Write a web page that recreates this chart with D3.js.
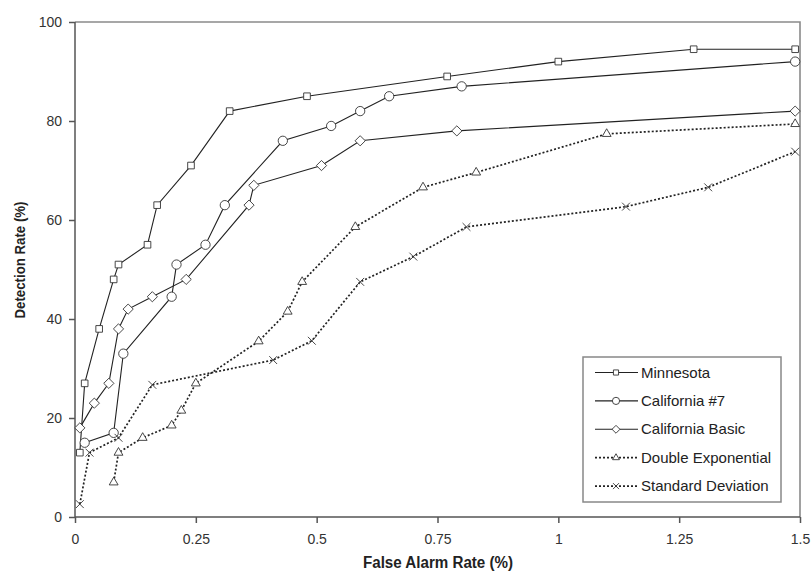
<!DOCTYPE html>
<html>
<head>
<meta charset="utf-8">
<script src="https://cdn.jsdelivr.net/npm/d3@7"></script>
<style>
  body { margin:0; background:#fff; }
  svg { display:block; font-family:"Liberation Sans", Arial, sans-serif; }
</style>
</head>
<body>
<div id="chart"></div>
<script>
// values (false alarm %, detection %)
const minnesotaX = [0.01, 0.02, 0.05, 0.08, 0.09, 0.15, 0.17, 0.24, 0.32, 0.48, 0.77, 1.0, 1.28, 1.49]
const minnesotaY = [13, 27, 38, 48, 51, 55, 63, 71, 82, 85, 89, 92, 94.5, 94.5]

const cal7X = [0.02, 0.08, 0.10, 0.20, 0.21, 0.27, 0.31, 0.43, 0.53, 0.59, 0.65, 0.80, 1.49]
const cal7Y = [15, 17, 33, 44.5, 51, 55, 63, 76, 79, 82, 85, 87, 92]

const calBasicX = [0.01, 0.04, 0.07, 0.09, 0.11, 0.16, 0.23, 0.36, 0.37, 0.51, 0.59, 0.79, 1.49]
const calBasicY = [18, 23, 27, 38, 42, 44.5, 48, 63, 67, 71, 76, 78, 82]

const dblExpX = [0.08, 0.09, 0.14, 0.20, 0.22, 0.25, 0.38, 0.44, 0.47, 0.58, 0.72, 0.83, 1.10, 1.49]
const dblExpY = [7, 13, 16, 18.5, 21.5, 27, 35.5, 41.5, 47.5, 58.6, 66.6, 69.6, 77.4, 79.4]

const stdDevX = [0.01, 0.03, 0.09, 0.16, 0.41, 0.49, 0.59, 0.70, 0.81, 1.14, 1.31, 1.49]
const stdDevY = [2.6, 13, 16, 26.7, 31.7, 35.6, 47.5, 52.6, 58.6, 62.7, 66.6, 73.8]

const seriesNames = ['Minnesota', 'California #7', 'California Basic', 'Double Exponential', 'Standard Deviation']
const xTicks = [0, 0.25, 0.5, 0.75, 1, 1.25, 1.5]
const xTickLabels = ['0', '0.25', '0.5', '0.75', '1', '1.25', '1.5']
const yTicks = [0, 20, 40, 60, 80, 100]

function zip(xs, ys){ return xs.map((x,i) => ({x:x, y:ys[i]})) }

const series = [
  { name: seriesNames[0], pts: zip(minnesotaX, minnesotaY), sym: 'square', dash: null },
  { name: seriesNames[1], pts: zip(cal7X, cal7Y), sym: 'circle', dash: null },
  { name: seriesNames[2], pts: zip(calBasicX, calBasicY), sym: 'diamond', dash: null },
  { name: seriesNames[3], pts: zip(dblExpX, dblExpY), sym: 'triangle', dash: '2,2' },
  { name: seriesNames[4], pts: zip(stdDevX, stdDevY), sym: 'cross', dash: '2,2' }
]

const width = 811, height = 575
const plotL = 75, plotR = 800, plotT = 22, plotB = 517

const x = d3.scaleLinear().domain([0, 1.5]).range([plotL, plotR])
const y = d3.scaleLinear().domain([0, 100]).range([plotB, plotT])

const svg = d3.select('#chart').append('svg').attr('width', width).attr('height', height)

// plot frame (top & right in grey)
svg.append('path')
  .attr('d', `M${plotL},${plotT}H${plotR}V${plotB}`)
  .attr('fill', 'none').attr('stroke', '#8a8a8a').attr('stroke-width', 1.6)

const xAxis = d3.axisBottom(x).tickValues(xTicks).tickSize(6).tickPadding(11)
  .tickFormat((d,i) => xTickLabels[i])
const yAxis = d3.axisLeft(y).tickValues(yTicks).tickSize(6).tickPadding(7)

const gx = svg.append('g').attr('transform', `translate(0,${plotB})`).call(xAxis)
const gy = svg.append('g').attr('transform', `translate(${plotL},0)`).call(yAxis)
gx.select('.domain').attr('d', `M${plotL},0H${plotR}`)
gy.select('.domain').attr('d', `M0,${plotT}V${plotB}`)
;[gx, gy].forEach(g => {
  g.selectAll('.domain, line').attr('stroke', '#555').attr('stroke-width', 1.5)
  g.selectAll('text').attr('font-size', 14).attr('fill', '#333')
    .attr('font-family', '"Liberation Sans", Arial, sans-serif')
})

svg.append('text').attr('x', 438).attr('y', 568)
  .attr('text-anchor', 'middle').attr('font-weight', 'bold').attr('font-size', 16)
  .attr('textLength', 150).attr('lengthAdjust', 'spacingAndGlyphs')
  .attr('fill', '#222').text('False Alarm Rate (%)')
svg.append('text').attr('transform', `translate(25,260) rotate(-90)`)
  .attr('text-anchor', 'middle').attr('font-weight', 'bold').attr('font-size', 15.5)
  .attr('textLength', 117).attr('lengthAdjust', 'spacingAndGlyphs')
  .attr('fill', '#222').text('Detection Rate (%)')

// diamond drawn as a square turned by 45 degrees
const diamondType = {
  draw(ctx, size){
    const r = Math.sqrt(size / 2)
    ctx.moveTo(0, -r); ctx.lineTo(r, 0); ctx.lineTo(0, r); ctx.lineTo(-r, 0); ctx.closePath()
  }
}
const symTypes = {
  square: [d3.symbolSquare, 44],
  circle: [d3.symbolCircle, 68],
  diamond: [diamondType, 52],
  triangle: [d3.symbolTriangle, 34],
  cross: [d3.symbolX, 42]
}
function symbolPath(name, k){
  return d3.symbol().type(symTypes[name][0]).size(symTypes[name][1] * k)()
}

const line = d3.line().x(d => x(d.x)).y(d => y(d.y))

series.forEach(s => {
  svg.append('path')
    .attr('d', line(s.pts))
    .attr('fill', 'none')
    .attr('stroke', '#222')
    .attr('stroke-width', s.dash ? 1.7 : 1.1)
    .attr('stroke-dasharray', s.dash)
})

series.forEach(s => {
  svg.selectAll(null)
    .data(s.pts)
    .enter()
    .append('path')
    .attr('d', symbolPath(s.sym, 1))
    .attr('transform', d => `translate(${x(d.x)},${y(d.y)})`)
    .attr('fill', s.sym === 'cross' ? 'none' : '#fff')
    .attr('stroke', '#333')
    .attr('stroke-width', 0.9)
})

// legend
const lg = svg.append('g').attr('transform', 'translate(583,357)')
lg.append('rect').attr('width', 198).attr('height', 145)
  .attr('fill', '#fff').attr('stroke', '#888').attr('stroke-width', 1.5)
series.forEach((s, i) => {
  const ly = 15.5 + i * 28.4
  lg.append('line').attr('x1', 12).attr('x2', 55).attr('y1', ly).attr('y2', ly)
    .attr('stroke', '#222').attr('stroke-width', s.dash ? 1.7 : 1.1)
    .attr('stroke-dasharray', s.dash)
  lg.append('path').attr('d', symbolPath(s.sym, 0.6))
    .attr('transform', `translate(33,${ly})`)
    .attr('fill', s.sym === 'cross' ? 'none' : '#fff')
    .attr('stroke', '#333').attr('stroke-width', 0.9)
  lg.append('text').attr('x', 58).attr('y', ly + 5)
    .attr('font-size', 15).attr('fill', '#222').text(s.name)
})
</script>
</body>
</html>
